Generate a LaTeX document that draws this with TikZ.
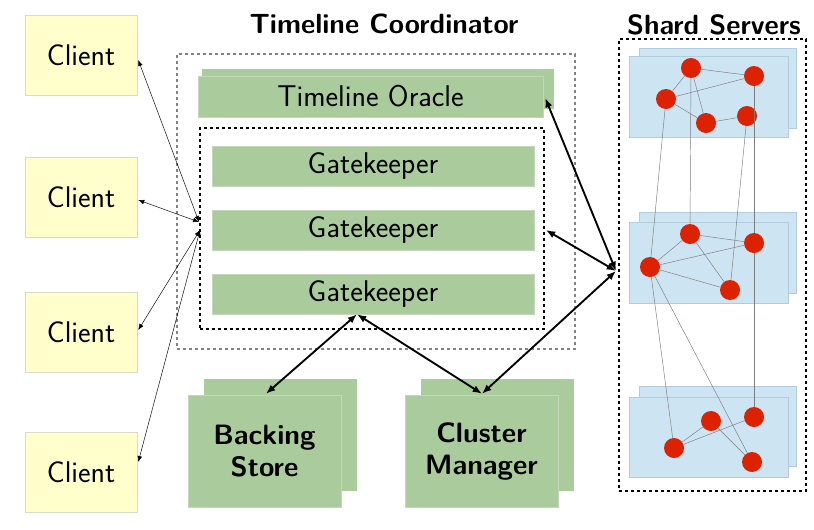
\documentclass[tikz,border=0pt]{standalone}
\usetikzlibrary{arrows.meta,calc}
\definecolor{gfill}{RGB}{170,203,156}
\definecolor{gline}{RGB}{196,214,188}
\definecolor{yfill}{RGB}{255,255,204}
\definecolor{yline}{RGB}{218,218,200}
\definecolor{bfill}{RGB}{205,228,242}
\definecolor{bline}{RGB}{178,204,222}
\definecolor{rdot}{RGB}{220,34,0}
\begin{document}
\begin{tikzpicture}[x=0.75pt,y=-0.75pt,
  client/.style={draw=yline,line width=0.4pt,fill=yfill,minimum width=84pt,minimum height=60pt,inner sep=0pt,font=\sffamily\fontsize{22.4}{25}\selectfont},
  gbox/.style={draw=gline,line width=0.4pt,fill=gfill,inner sep=0pt,font=\sffamily\fontsize{22.5}{25}\selectfont},
  gback/.style={fill=gfill,draw=none},
  bigtext/.style={font=\sffamily\bfseries\fontsize{21}{24}\selectfont,align=center},
  title/.style={font=\sffamily\bfseries\fontsize{20.8}{24}\selectfont,inner sep=0pt},
  panel/.style={draw=bline,line width=0.4pt,fill=bfill},
  dot/.style={circle,fill=rdot,draw=none,minimum size=15pt,inner sep=0pt},
  sedge/.style={draw={rgb,255:red,125;green,125;blue,125},line width=0.35pt},
  thin/.style={{Latex[length=4.5pt,width=3.5pt]}-{Latex[length=4.5pt,width=3.5pt]},line width=0.35pt},
  thick/.style={{Latex[length=7pt,width=5.5pt]}-{Latex[length=7pt,width=5.5pt]},line width=1.4pt},
  graydash/.style={draw={rgb,255:red,130;green,130;blue,130},dashed,line width=0.9pt,dash pattern=on 2.5pt off 2pt},
  blackdash/.style={draw=black,line width=1.3pt,dash pattern=on 2.5pt off 2pt}]
\useasboundingbox (0,0) rectangle (814,529);

% titles
\node[title] (tct) at (384,24) {Timeline Coordinator};
\node[title] (sst) at (714,25) {Shard Servers};

% clients
\node[client] (c1) at (81,55) {Client};
\node[client] (c2) at (81,197) {Client};
\node[client] (c3) at (81,332) {Client};
\node[client] (c4) at (81,472) {Client};

% timeline coordinator
\node[graydash,minimum width=298.5pt,minimum height=221.25pt,inner sep=0pt] (tc) at (376,201.5) {};
\node[gback,minimum width=264pt,minimum height=30pt,inner sep=0pt] (tob) at (378,89) {};
\node[gbox,minimum width=258.75pt,minimum height=30.75pt] (to) at (370.5,96.5) {Timeline Oracle};
\node[blackdash,minimum width=258pt,minimum height=150.75pt,inner sep=0pt] (gkbox) at (372,228.5) {};
\node[gbox,minimum width=241.5pt,minimum height=30pt] (gk1) at (373,166) {Gatekeeper};
\node[gbox,minimum width=241.5pt,minimum height=30pt] (gk2) at (373,230) {Gatekeeper};
\node[gbox,minimum width=241.5pt,minimum height=30pt] (gk3) at (373,294) {Gatekeeper};

% backing store and cluster manager
\node[gback,minimum width=114.75pt,minimum height=84pt,inner sep=0pt] (bsb) at (280.5,435) {};
\node[gbox,minimum width=114.75pt,minimum height=84pt,bigtext] (bs) at (264.5,451) {Backing\\Store};
\node[gback,minimum width=114.75pt,minimum height=84pt,inner sep=0pt] (cmb) at (497.5,435) {};
\node[gbox,minimum width=114.75pt,minimum height=84pt,bigtext] (cm) at (481.5,451) {Cluster\\Manager};

% shard servers
\node[blackdash,minimum width=140.25pt,minimum height=339pt,inner sep=0pt] (ss) at (712.5,265) {};
\node[panel,minimum width=117.75pt,minimum height=60pt,inner sep=0pt] (p1b) at (717.5,88) {};
\node[panel,minimum width=119.25pt,minimum height=60.75pt,inner sep=0pt] (p1) at (708.5,96.5) {};
\node[panel,minimum width=117.75pt,minimum height=60.75pt,inner sep=0pt] (p2b) at (717.5,252.5) {};
\node[panel,minimum width=119.25pt,minimum height=60.75pt,inner sep=0pt] (p2) at (708.5,262.5) {};
\node[panel,minimum width=117.75pt,minimum height=60pt,inner sep=0pt] (p3b) at (717.5,426) {};
\node[panel,minimum width=119.25pt,minimum height=60pt,inner sep=0pt] (p3) at (708.5,437) {};

\node[dot] (A) at (691,68) {};
\node[dot] (B) at (754,76) {};
\node[dot] (C) at (666,99) {};
\node[dot] (D) at (706,123) {};
\node[dot] (E) at (747,116) {};
\node[dot] (F) at (690,234) {};
\node[dot] (G) at (754,243) {};
\node[dot] (H) at (650,267) {};
\node[dot] (I) at (730,290) {};
\node[dot] (J) at (711,421) {};
\node[dot] (K) at (754,417) {};
\node[dot] (L) at (674,448) {};
\node[dot] (M) at (752,462) {};

\draw[sedge] (A) -- (B);
\draw[sedge] (A) -- (C);
\draw[sedge] (A) -- (D);
\draw[sedge] (C) -- (B);
\draw[sedge] (C) -- (D);
\draw[sedge] (D) -- (E);
\draw[sedge] (F) -- (G);
\draw[sedge] (F) -- (H);
\draw[sedge] (F) -- (I);
\draw[sedge] (H) -- (G);
\draw[sedge] (H) -- (I);
\draw[sedge] (L) -- (J);
\draw[sedge] (L) -- (K);
\draw[sedge] (J) -- (M);
\draw[sedge] (A) -- (F);
\draw[sedge] (B) -- (G);
\draw[sedge] (E) -- (I);
\draw[sedge] (C) -- (H);
\draw[sedge] (H) -- (L);
\draw[sedge] (H) -- (M);
\draw[sedge] (G) -- (K);

% client connectors
\coordinate (in1) at (199,222);
\coordinate (in2) at (200,230);
\draw[thin] ($(c1.east)+(1,5)$) -- (in1);
\draw[thin] ($(c2.east)+(1,3)$) -- (in1);
\draw[thin] ($(c3.east)+(1,-2)$) -- (in2);
\draw[thin] ($(c4.east)+(1,-10)$) -- (in2);

% hub connectors
\coordinate (hub) at (616,271);
\draw[thick] (hub) -- ($(to.east)+(2,1.5)$);
\draw[thick] (hub) -- ($(gkbox.east)+(1,1.5)$);
\draw[thick] (hub) -- ($(cm.north)+(0.5,-1)$);

% gatekeeper to storage
\coordinate (gkb) at ($(gk3.south)+(-16,0)$);
\draw[thick] (gkb) -- ($(bs.north)+(1.5,-1)$);
\draw[thick] (gkb) -- ($(cm.north)+(0.5,-1)$);
\end{tikzpicture}
\end{document}
